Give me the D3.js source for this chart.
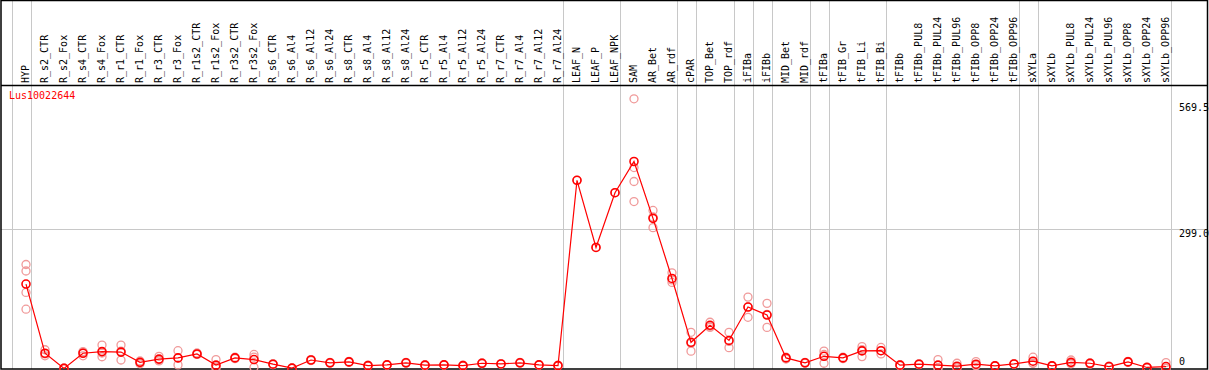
<html>
<head>
  <meta charset="utf-8">
  <title>Lus10022644</title>
  <script src="https://cdn.jsdelivr.net/npm/d3@7"></script>
  <style>
  body { margin: 0; background: white; }
  text { font-family: 'DejaVu Sans Mono', monospace; font-size: 10px; }
  </style>
</head>
<body>
<script>

var categories = ['HYP','R_s2_CTR','R_s2_Fox','R_s4_CTR','R_s4_Fox','R_r1_CTR','R_r1_Fox','R_r3_CTR','R_r3_Fox',
  'R_r1s2_CTR','R_r1s2_Fox','R_r3s2_CTR','R_r3s2_Fox','R_s6_CTR','R_s6_Al4','R_s6_Al12','R_s6_Al24',
  'R_s8_CTR','R_s8_Al4','R_s8_Al12','R_s8_Al24','R_r5_CTR','R_r5_Al4','R_r5_Al12','R_r5_Al24',
  'R_r7_CTR','R_r7_Al4','R_r7_Al12','R_r7_Al24','LEAF_N','LEAF_P','LEAF_NPK','SAM','AR_Bet','AR_rdf',
  'cPAR','TOP_Bet','TOP_rdf','iFIBa','iFIBb','MID_Bet','MID_rdf','tFIBa','tFIB_Gr','tFIB_Li','tFIB_Bi',
  'tFIBb','tFIBb_PUL8','tFIBb_PUL24','tFIBb_PUL96','tFIBb_OPP8','tFIBb_OPP24','tFIBb_OPP96',
  'sXYLa','sXYLb','sXYLb_PUL8','sXYLb_PUL24','sXYLb_PUL96','sXYLb_OPP8','sXYLb_OPP24','sXYLb_OPP96'];

// mean expression per sample
var means = [181, 32.5, 0, 32.5, 36, 35, 13, 20, 22.5, 31, 7, 22.5, 19, 9, 0.5, 18, 12, 14, 6, 7.5, 12,
  7, 7.5, 6, 11, 9.6, 12, 7.5, 6, 403.6, 259.5, 377, 444, 322, 193, 56, 92.5, 60, 131.7, 114.5,
  22.5, 12, 26, 22.5, 37.5, 38, 7, 9, 7, 4.7, 9, 5.4, 9.6, 15.4, 5.4, 13, 11, 4, 14, 2, 4];

// replicate values per sample
var replicates = [[223, 209, 163, 127], [40, 27, 31], [0, 1, 0], [34, 27, 36], [50, 25, 33], [50, 18, 37],
  [10, 16, 13], [26, 16, 18], [38, 7.5, 22], [30, 33, 30], [19, 3, 0], [21, 24, 22.5], [30, 2.5, 24],
  [9, 8, 10], [0, 1, 0.5], [17, 19, 18], [12, 11, 13], [14, 13, 15], [6, 5, 7], [7.5, 7, 8], [12, 11, 13],
  [7, 6, 8], [7.5, 7, 8], [6, 5, 7], [11, 10, 12], [9.6, 9, 10], [12, 11, 13], [7.5, 7, 8], [6, 5, 7],
  [403.6], [259.5], [377], [578.5, 431, 401, 358], [339, 302, 325], [205, 184.5, 190], [77.5, 37, 54],
  [99, 88, 90], [77.5, 44.5, 58], [153, 109.6, 132], [139.6, 88, 116], [24, 20, 23], [11, 13, 12],
  [37, 11, 30], [21, 24, 22.5], [46.7, 25.3, 40], [45, 31, 38], [7, 6, 8], [9, 10, 8], [19, 1, 1],
  [11, 2, 1], [14.5, 6, 7], [5.4, 5, 6], [9.6, 9, 10], [24, 11, 11], [5.4, 5, 6], [18, 11, 10],
  [12, 9, 11], [4, 3, 5], [14, 13, 15], [2, 1, 3], [12.5, 0, 0]];

// samples that start a new group (a separator line goes before them)
var groupStarts = ['HYP','R_s2_CTR','LEAF_N','SAM','cPAR','TOP_Bet','iFIBa','iFIBb','MID_Bet','tFIBa','tFIB_Gr','tFIBb','sXYLa','sXYLb'];

var yTicks = [0, 299.0, 569.5];
var geneName = 'Lus10022644';

var width = 1209, height = 370;
var headerBottom = 85, plotBottom = 369, frameRight = 1207.5;

var svg = d3.select('body')
            .append('svg')
            .attr('width', width)
            .attr('height', height);

var x = d3.scalePoint()
          .domain(categories)
          .range([26, 26 + 19 * (categories.length - 1)]);
var y = d3.scaleLinear()
          .domain([0, 569.5])
          .range([368.4, 103]);

var step = x.step();

// gray separators
var sepX = groupStarts.map(function(c) { return x(c) - step / 2 - 5; });
sepX.push(x(categories[categories.length - 1]) + 4.5);
svg.selectAll('.sep')
   .data(sepX)
   .enter()
   .append('line')
   .attr('class', 'sep')
   .attr('x1', function(d) { return Math.round(d) + 0.5; })
   .attr('x2', function(d) { return Math.round(d) + 0.5; })
   .attr('y1', 0)
   .attr('y2', plotBottom)
   .attr('stroke', '#c8c8c8')
   .attr('stroke-width', 1);

// middle grid line
svg.append('line')
   .attr('x1', 1).attr('x2', frameRight)
   .attr('y1', Math.round(y(299.0)) + 0.5)
   .attr('y2', Math.round(y(299.0)) + 0.5)
   .attr('stroke', '#c8c8c8');

// frame
svg.append('rect')
   .attr('x', 1).attr('y', 0.5)
   .attr('width', frameRight - 1)
   .attr('height', plotBottom - 0.5)
   .attr('fill', 'none')
   .attr('stroke', 'black')
   .attr('stroke-width', 1.5);
svg.append('line')
   .attr('x1', 1).attr('x2', frameRight)
   .attr('y1', headerBottom + 0.5).attr('y2', headerBottom + 0.5)
   .attr('stroke', 'black')
   .attr('stroke-width', 1.5);

// sample labels, rotated
svg.selectAll('.label')
   .data(categories)
   .enter()
   .append('text')
   .attr('class', 'label')
   .attr('transform', function(d) { return 'translate(' + (x(d) + 3) + ',' + 83 + ') rotate(-90)'; })
   .attr('fill', 'black')
   .text(function(d) { return d; });

// y labels on the right
svg.selectAll('.ylab')
   .data(yTicks)
   .enter()
   .append('text')
   .attr('class', 'ylab')
   .attr('x', 1179)
   .attr('y', function(d) { return d === 0 ? y(d) - 3.5 : y(d) + 7.5; })
   .attr('fill', 'black')
   .text(function(d) { return d === 0 ? '0' : d3.format('.1f')(d); });

// replicate points
var reps = [];
categories.forEach(function(c, i) {
  replicates[i].forEach(function(v) { reps.push({key: c, value: v}); });
});
svg.selectAll('.rep')
   .data(reps)
   .enter()
   .append('circle')
   .attr('class', 'rep')
   .attr('cx', function(d) { return x(d.key); })
   .attr('cy', function(d) { return y(d.value); })
   .attr('r', 4)
   .attr('fill', 'none')
   .attr('stroke', '#f09a9a')
   .attr('stroke-width', 1.3);

// mean line
var meanData = categories.map(function(c, i) { return {key: c, value: means[i]}; });
var line = d3.line()
             .x(function(d) { return x(d.key); })
             .y(function(d) { return y(d.value); });
svg.append('path')
   .datum(meanData)
   .attr('d', line)
   .attr('fill', 'none')
   .attr('stroke', 'red')
   .attr('stroke-width', 1.2);

svg.selectAll('.mean')
   .data(meanData)
   .enter()
   .append('circle')
   .attr('class', 'mean')
   .attr('cx', function(d) { return x(d.key); })
   .attr('cy', function(d) { return y(d.value); })
   .attr('r', 4)
   .attr('fill', 'none')
   .attr('stroke', 'red')
   .attr('stroke-width', 1.6);

svg.append('text')
   .attr('x', 9)
   .attr('y', 99)
   .attr('fill', 'red')
   .text(geneName);

</script>
</body>
</html>
